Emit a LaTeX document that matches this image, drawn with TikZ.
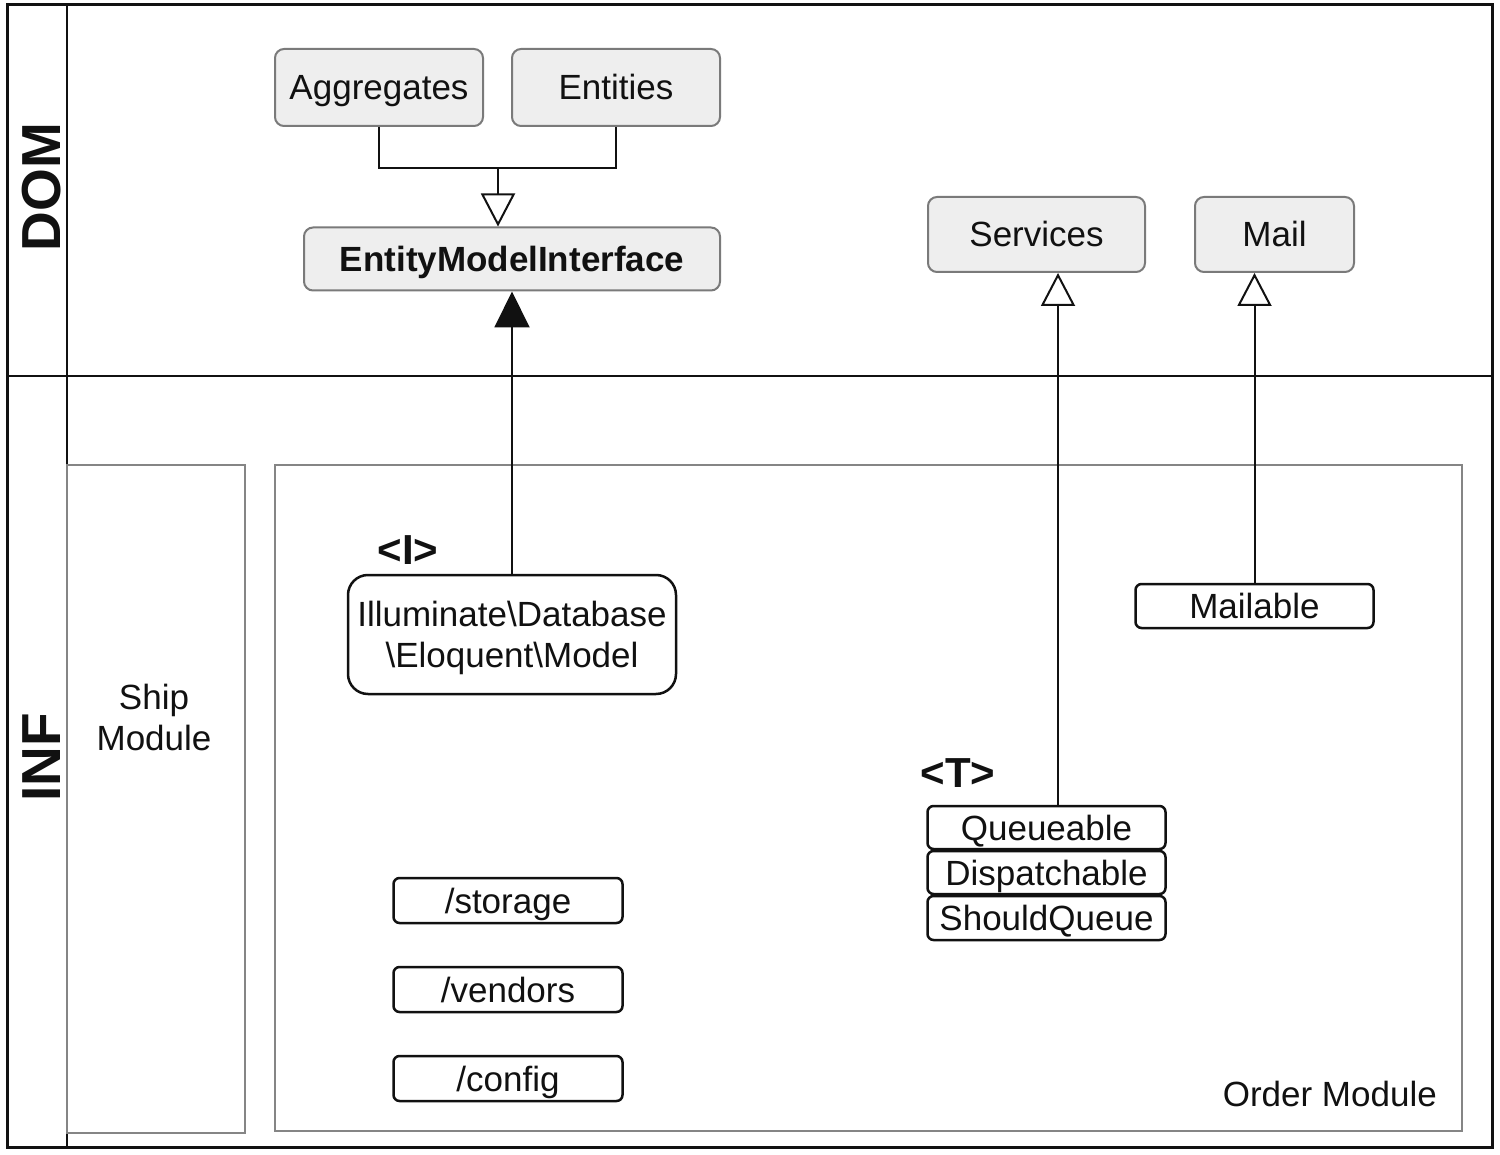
\documentclass[tikz,border=0pt]{standalone}
\usepackage{fontspec}
\setmainfont{Liberation Sans}
\usetikzlibrary{arrows.meta}
\definecolor{boxfill}{HTML}{EEEEEE}
\definecolor{boxline}{HTML}{7A7A7A}
\definecolor{modline}{HTML}{858585}
\definecolor{ink}{HTML}{111111}
\tikzset{
  txt/.style={font=\fontsize{35}{41}\selectfont, text=ink, inner sep=0pt, align=center, text height=25pt, text depth=0pt},
  twoline/.style={text height=66pt, text depth=0pt},
  graybox/.style={txt, draw=boxline, fill=boxfill, line width=2pt, rounded corners=9pt},
  whitebox/.style={txt, draw=ink, fill=white, line width=2.5pt, rounded corners=6pt},
  lane/.style={font=\fontsize{55}{60}\bfseries\selectfont, text=ink, rotate=90, inner sep=0pt},
  stereo/.style={font=\fontsize{42}{46}\bfseries\selectfont, text=ink, inner sep=0pt},
  conn/.style={draw=ink, line width=2pt},
  openarr/.style={conn, -{Triangle[open, length=33pt, width=34pt]}},
  fullarr/.style={conn, -{Triangle[length=36pt, width=35pt]}},
}
\begin{document}
\begin{tikzpicture}[x=1pt,y=-1pt]
\useasboundingbox (0,0) rectangle (1500,1155);
\fill[white] (0,0) rectangle (1500,1155);
% frame
\draw[ink, line width=3pt] (7,5) rectangle (1492,1147);
\draw[ink, line width=2.5pt] (67,5) -- (67,1147);
\draw[ink, line width=2.5pt] (7,376) -- (1492,376);
% modules
\draw[modline, line width=2pt] (67,465) rectangle (245,1133);
\draw[modline, line width=2pt] (275,465) rectangle (1462,1131);
% lane labels
\node[lane] (dom) at (42,187) {DOM};
\node[lane] (inf) at (42,757) {INF};
% DOM boxes
\node[graybox, minimum width=208pt, minimum height=77pt] (agg) at (379,87.5) {Aggregates};
\node[graybox, minimum width=208pt, minimum height=77pt] (ent) at (616,87.5) {Entities};
\node[graybox, minimum width=416pt, minimum height=63pt, font=\fontsize{35}{41}\bfseries\selectfont] (emi) at (512,259) {EntityModelInterface};
\node[graybox, minimum width=217pt, minimum height=75pt] (serv) at (1036.5,234.5) {Services};
\node[graybox, minimum width=159pt, minimum height=75pt] (mail) at (1274.5,234.5) {Mail};
% INF boxes
\node[whitebox, twoline, rounded corners=20pt, minimum width=328pt, minimum height=119pt] (ill) at (512,634.5) {Illuminate\textbackslash Database\\\textbackslash Eloquent\textbackslash Model};
\node[whitebox, minimum width=238pt, minimum height=44pt] (mailable) at (1254.5,606) {Mailable};
\node[whitebox, minimum width=238pt, minimum height=43pt] (queue) at (1046.5,827.5) {Queueable};
\node[whitebox, minimum width=238pt, minimum height=43pt] (disp) at (1046.5,872.5) {Dispatchable};
\node[whitebox, minimum width=238pt, minimum height=44pt] (should) at (1046.5,918) {ShouldQueue};
\node[whitebox, minimum width=229pt, minimum height=45pt] (storage) at (508,900.5) {/storage};
\node[whitebox, minimum width=229pt, minimum height=45pt] (vendors) at (508,989.5) {/vendors};
\node[whitebox, minimum width=229pt, minimum height=45pt] (config) at (508,1078.5) {/config};
% texts
\node[stereo] (iI) at (408,550) {<I>};
\node[stereo] (tT) at (958,773) {<T>};
\node[txt, twoline] (ship) at (154,717) {Ship\\Module};
\node[txt, anchor=east] (order) at (1437,1094) {Order Module};
% connectors
\coordinate (j) at (498,168);
\draw[conn] (agg.south) |- (j) -| (ent.south);
\draw[openarr] (j) -- (j |- emi.north);
\draw[fullarr] (ill.north) -- (emi.south);
\draw[openarr] ([xshift=11.5pt]queue.north) -- ([xshift=11.5pt]queue.north |- serv.south);
\draw[openarr] (mailable.north) -- (mailable.north |- mail.south);
\end{tikzpicture}
\end{document}
